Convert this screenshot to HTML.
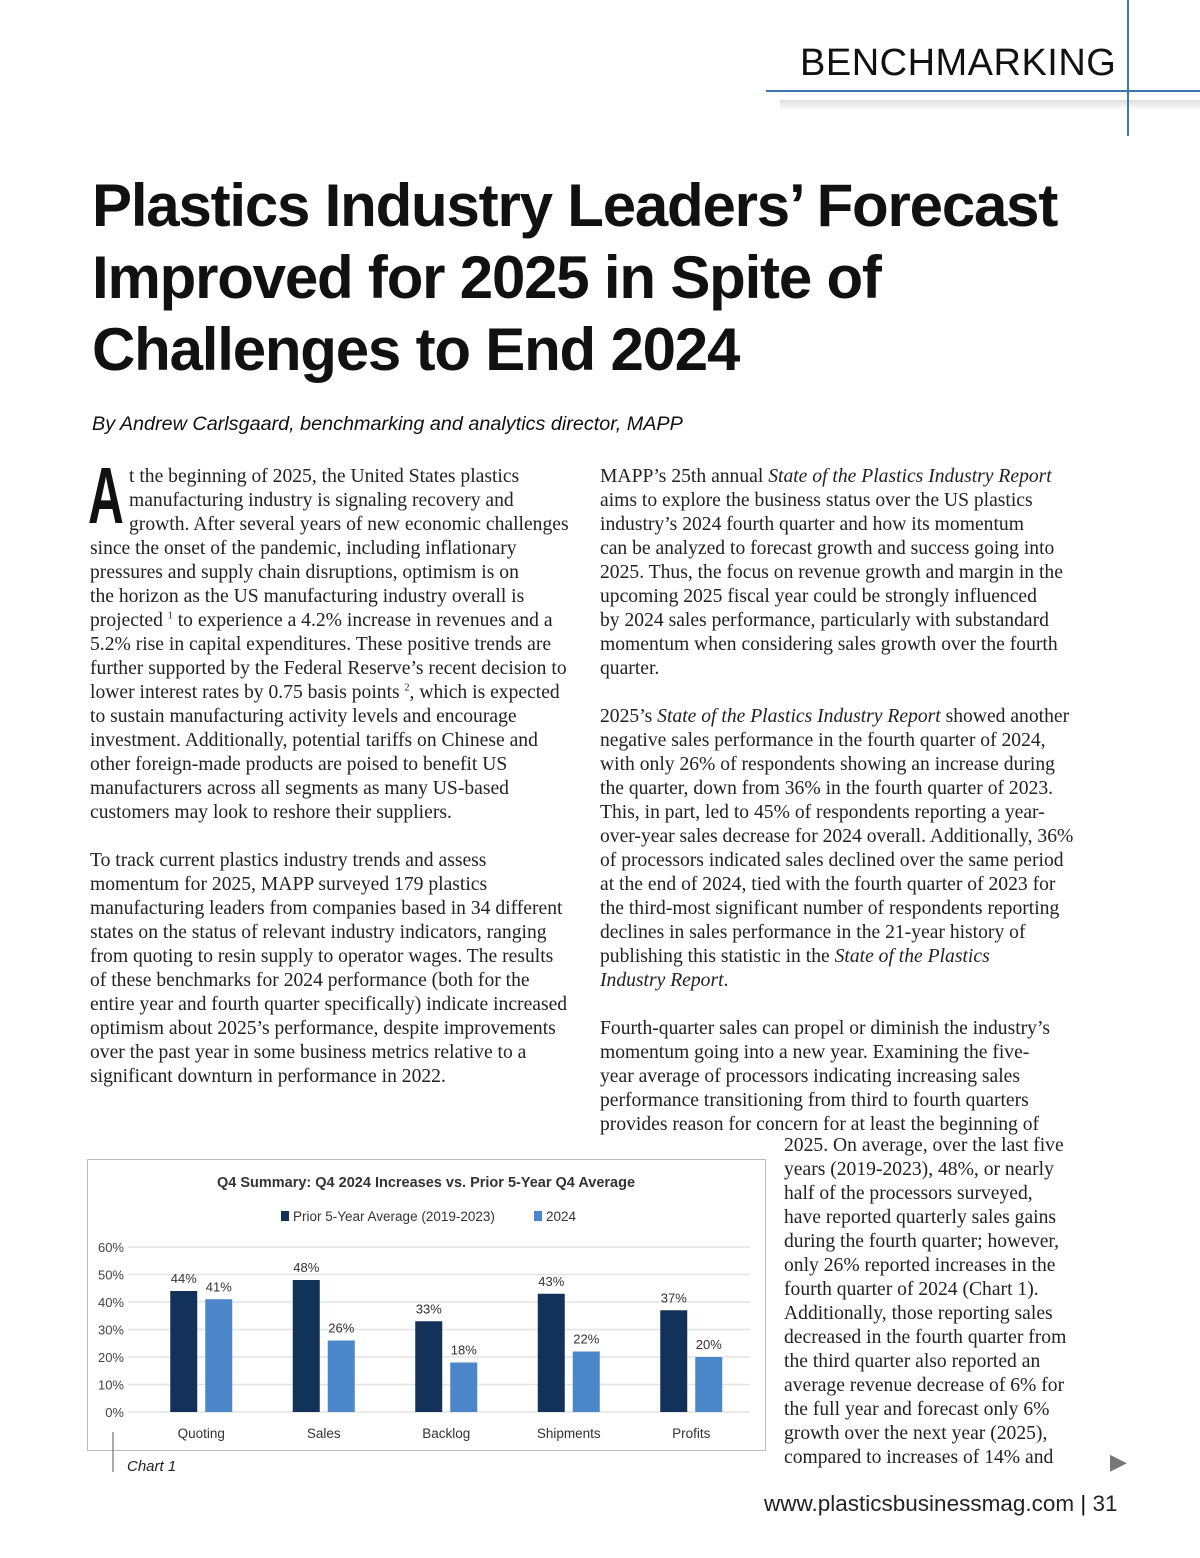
<!DOCTYPE html>
<html><head><meta charset="utf-8"><style>
body{margin:0;width:1200px;height:1558px;position:relative;background:#fff;overflow:hidden;font-family:"Liberation Serif",serif;color:#222}
.abs{position:absolute}
.col{position:absolute;font-size:19.6px;line-height:24px;white-space:nowrap}
.col sup{font-size:10px;line-height:0}
.title{position:absolute;left:92px;top:170px;font-family:"Liberation Sans",sans-serif;font-weight:bold;font-size:60px;line-height:72px;color:#111;letter-spacing:-1.2px;white-space:nowrap}
</style></head><body>
<div class="abs" style="left:800px;top:42px;font-family:'Liberation Sans',sans-serif;font-size:38px;color:#111;letter-spacing:0.5px">BENCHMARKING</div>
<div class="abs" style="left:766px;top:90px;width:434px;height:2px;background:#3a78b0"></div>
<div class="abs" style="left:780px;top:100px;width:420px;height:10px;background:linear-gradient(#ddd,#fff)"></div>
<div class="abs" style="left:1127px;top:0;width:2px;height:136px;background:#3a78b0"></div>
<div class="title">Plastics Industry Leaders’ Forecast<br>Improved for 2025 in Spite of<br>Challenges to End 2024</div>
<div class="abs" style="left:92px;top:413px;font-family:'Liberation Sans',sans-serif;font-style:italic;font-size:19.8px;color:#111">By Andrew Carlsgaard, benchmarking and analytics director, MAPP</div>
<div class="abs" style="left:88px;top:456px;font-family:'Liberation Sans',sans-serif;font-weight:bold;font-size:80px;line-height:80px;color:#111;transform:scaleX(0.62);transform-origin:left">A</div>
<div class="col" style="left:90px;top:465px">
<span style="padding-left:39px">t the beginning of 2025, the United States plastics</span><br>
<span style="padding-left:39px">manufacturing industry is signaling recovery and</span><br>
<span style="padding-left:39px">growth. After several years of new economic challenges</span><br>
since the onset of the pandemic, including inflationary<br>
pressures and supply chain disruptions, optimism is on<br>
the horizon as the US manufacturing industry overall is<br>
projected <sup>1</sup> to experience a 4.2% increase in revenues and a<br>
5.2% rise in capital expenditures. These positive trends are<br>
further supported by the Federal Reserve’s recent decision to<br>
lower interest rates by 0.75 basis points <sup>2</sup>, which is expected<br>
to sustain manufacturing activity levels and encourage<br>
investment. Additionally, potential tariffs on Chinese and<br>
other foreign-made products are poised to benefit US<br>
manufacturers across all segments as many US-based<br>
customers may look to reshore their suppliers.<br><br>
To track current plastics industry trends and assess<br>
momentum for 2025, MAPP surveyed 179 plastics<br>
manufacturing leaders from companies based in 34 different<br>
states on the status of relevant industry indicators, ranging<br>
from quoting to resin supply to operator wages. The results<br>
of these benchmarks for 2024 performance (both for the<br>
entire year and fourth quarter specifically) indicate increased<br>
optimism about 2025’s performance, despite improvements<br>
over the past year in some business metrics relative to a<br>
significant downturn in performance in 2022.</div>
<div class="col" style="left:600px;top:465px">
MAPP’s 25th annual <i>State of the Plastics Industry Report</i><br>
aims to explore the business status over the US plastics<br>
industry’s 2024 fourth quarter and how its momentum<br>
can be analyzed to forecast growth and success going into<br>
2025. Thus, the focus on revenue growth and margin in the<br>
upcoming 2025 fiscal year could be strongly influenced<br>
by 2024 sales performance, particularly with substandard<br>
momentum when considering sales growth over the fourth<br>
quarter.<br><br>
2025’s <i>State of the Plastics Industry Report</i> showed another<br>
negative sales performance in the fourth quarter of 2024,<br>
with only 26% of respondents showing an increase during<br>
the quarter, down from 36% in the fourth quarter of 2023.<br>
This, in part, led to 45% of respondents reporting a year-<br>
over-year sales decrease for 2024 overall. Additionally, 36%<br>
of processors indicated sales declined over the same period<br>
at the end of 2024, tied with the fourth quarter of 2023 for<br>
the third-most significant number of respondents reporting<br>
declines in sales performance in the 21-year history of<br>
publishing this statistic in the <i>State of the Plastics</i><br>
<i>Industry Report</i>.<br><br>
Fourth-quarter sales can propel or diminish the industry’s<br>
momentum going into a new year. Examining the five-<br>
year average of processors indicating increasing sales<br>
performance transitioning from third to fourth quarters<br>
provides reason for concern for at least the beginning of</div>
<div class="col" style="left:784px;top:1134px">
2025. On average, over the last five<br>
years (2019-2023), 48%, or nearly<br>
half of the processors surveyed,<br>
have reported quarterly sales gains<br>
during the fourth quarter; however,<br>
only 26% reported increases in the<br>
fourth quarter of 2024 (Chart 1).<br>
Additionally, those reporting sales<br>
decreased in the fourth quarter from<br>
the third quarter also reported an<br>
average revenue decrease of 6% for<br>
the full year and forecast only 6%<br>
growth over the next year (2025),<br>
compared to increases of 14% and</div>
<div class="abs" style="left:1110px;top:1450px;font-size:22px;color:#777;font-family:'DejaVu Sans',sans-serif">▶</div>
<div class="abs" style="left:764px;top:1491px;font-family:'Liberation Sans',sans-serif;font-size:22.5px;color:#222">www.plasticsbusinessmag.com <span style="color:#111">|</span> 31</div>
<svg class="abs" style="left:0;top:0" width="1200" height="1558">
<rect x="87.5" y="1159.5" width="678" height="291" fill="#fff" stroke="#bbb"/>
<line x1="113" y1="1432" x2="113" y2="1472" stroke="#555"/>
<text x="127" y="1471" font-family="Liberation Sans" font-style="italic" font-size="15" fill="#222">Chart 1</text>
<text x="426" y="1187" text-anchor="middle" font-family="Liberation Sans" font-weight="bold" font-size="14.5" fill="#333">Q4 Summary: Q4 2024 Increases vs. Prior 5-Year Q4 Average</text>
<rect x="281" y="1211" width="8" height="10" fill="#12325a"/>
<text x="293" y="1221" font-family="Liberation Sans" font-size="13.5" fill="#333">Prior 5-Year Average (2019-2023)</text>
<rect x="534" y="1211" width="8" height="10" fill="#4a86c8"/>
<text x="546" y="1221" font-family="Liberation Sans" font-size="13.5" fill="#333">2024</text>
<g id="plot"></g>
</svg>
<script>
const categories=["Quoting","Sales","Backlog","Shipments","Profits"];
const priorAvg=[44,48,33,43,37];
const y2024=[41,26,18,22,20];
const yTicks=[0,10,20,30,40,50,60];
const yTickLabels=["0%","10%","20%","30%","40%","50%","60%"];
(function(){
const ns="http://www.w3.org/2000/svg",g=document.getElementById("plot");
const y0=1412,pxPer=165/60;
const yS=v=>y0-v*pxPer;
const x0=140,step=122.5;
const xC=i=>x0+step*(i+0.5);
function el(t,a){const e=document.createElementNS(ns,t);for(const k in a)e.setAttribute(k,a[k]);g.appendChild(e);return e;}
yTicks.forEach((t,i)=>{
const l=el("line",{x1:128,x2:750,y1:yS(t),y2:yS(t),stroke:"#e3e3e3","stroke-width":1.5});


const tx=el("text",{x:124,y:yS(t)+5,"text-anchor":"end","font-family":"Liberation Sans","font-size":13,fill:"#444"});
tx.textContent=yTickLabels[i];


});
categories.forEach((c,i)=>{
const cx=xC(i);
[[priorAvg[i],"#12325a",-31],[y2024[i],"#4a86c8",4]].forEach(([v,col,off],k)=>{
const r=el("rect",{x:cx+off,y:yS(v),width:27,height:v*pxPer,fill:col});


const t=el("text",{x:cx+off+13.5,y:yS(v)-8,"text-anchor":"middle","font-family":"Liberation Sans","font-size":13,fill:"#333"});
t.textContent=v+"%";


});
const lb=el("text",{x:cx,y:1438,"text-anchor":"middle","font-family":"Liberation Sans","font-size":13.5,fill:"#333"});
lb.textContent=c;


});
})();
</script>
</body></html>
